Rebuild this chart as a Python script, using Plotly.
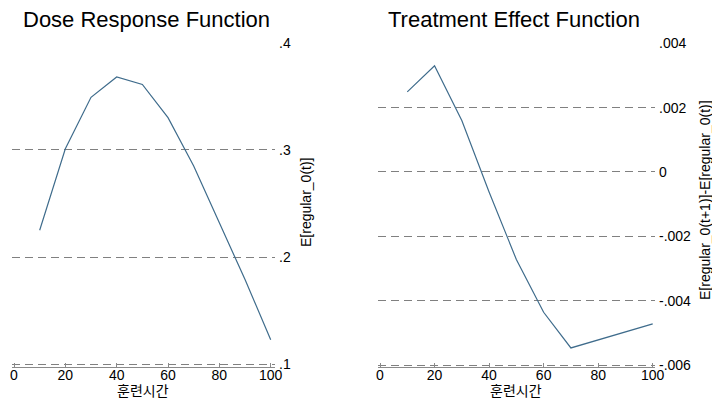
import plotly.graph_objects as go

# ---- data ----
dose = [10, 20, 30, 40, 50, 60, 70, 80, 90, 100]
dose_response = [0.225, 0.301, 0.349, 0.368, 0.361, 0.330, 0.285, 0.232, 0.179, 0.123]
treatment_effect = [0.00249, 0.00330, 0.00160, -0.00062, -0.00272, -0.00436,
                    -0.00547, -0.00522, -0.00497, -0.00472]

x_ticks = [0, 20, 40, 60, 80, 100]
x_tick_text = ["0", "20", "40", "60", "80", "100"]
dr_ticks = [0.1, 0.2, 0.3, 0.4]
dr_tick_text = [".1", ".2", ".3", ".4"]
te_ticks = [-0.006, -0.004, -0.002, 0, 0.002, 0.004]
te_tick_text = ["-.006", "-.004", "-.002", "0", ".002", ".004"]

titles = ["Dose Response Function", "Treatment Effect Function"]
y_titles = ["E[regular_0(t)]", "E[regular_0(t+1)]-E[regular_0(t)]"]
x_title = "훈련시간"

# page body has an 8px margin -> figure is drawn offset by 8px
OFF = 8
W, H = 720 - OFF, 403 - OFF
LINE = "#3f6c8c"
GRID = "#808080"
AX = "#8a8a8a"
FONT = "Liberation Sans, Arial, sans-serif"
KFONT = "Noto Sans CJK KR, sans-serif"


def px(x):
    return (x - OFF) / W


def py(y):
    return 1 - (y - OFF) / H


fig = go.Figure()
fig.add_trace(go.Scatter(x=dose, y=dose_response, mode="lines",
                         line=dict(color=LINE, width=1.2), xaxis="x", yaxis="y",
                         showlegend=False))
fig.add_trace(go.Scatter(x=dose, y=treatment_effect, mode="lines",
                         line=dict(color=LINE, width=1.2), xaxis="x2", yaxis="y2",
                         showlegend=False))

ydom = [py(367), py(42.3)]


def xaxis_cfg(dom, rng, anchor):
    return dict(domain=dom, range=rng, anchor=anchor, tickvals=x_ticks,
                ticktext=x_tick_text, showgrid=False, zeroline=False,
                showline=True, linecolor=AX, linewidth=1, ticks="inside",
                ticklen=4, tickcolor=AX, tickwidth=1, automargin=False,
                ticklabelstandoff=-5,
                tickfont=dict(family=FONT, size=14, color="#000"))


def yaxis_cfg(rng, tv, tt, anchor):
    return dict(domain=ydom, range=rng, anchor=anchor, side="right",
                tickvals=tv, ticktext=tt, showgrid=True, gridcolor=GRID,
                gridwidth=1, griddash="8px,5px", zeroline=False,
                showline=False, ticks="", ticklabelstandoff=3, automargin=False,
                tickfont=dict(family=FONT, size=14, color="#000"))


fig.update_layout(
    width=W, height=H,
    margin=dict(l=0, r=0, t=0, b=0, autoexpand=False),
    paper_bgcolor="white", plot_bgcolor="white",
    font=dict(family=FONT, color="#000"),
    xaxis=xaxis_cfg([px(12), px(275)], [-0.779, 101.675], "y"),
    yaxis=yaxis_cfg([0.09748, 0.4003], dr_ticks, dr_tick_text, "x"),
    xaxis2=xaxis_cfg([px(377.7), px(655)], [-0.843, 100.84], "y2"),
    yaxis2=yaxis_cfg([-0.006062, 0.004031], te_ticks, te_tick_text, "x2"),
)

ann = []
# panel titles
ann.append(dict(text=titles[0], x=px(21), y=py(19), xref="paper", yref="paper",
                xanchor="left", yanchor="middle", showarrow=False,
                font=dict(family=FONT, size=22, color="#000")))
ann.append(dict(text=titles[1], x=px(386), y=py(19), xref="paper", yref="paper",
                xanchor="left", yanchor="middle", showarrow=False,
                font=dict(family=FONT, size=22, color="#000")))
# y titles
ann.append(dict(text=y_titles[0], x=px(306), y=py(203), xref="paper", yref="paper",
                xanchor="center", yanchor="middle", textangle=-90, showarrow=False,
                font=dict(family=FONT, size=14, color="#000")))
ann.append(dict(text=y_titles[1], x=px(705), y=py(200), xref="paper", yref="paper",
                xanchor="center", yanchor="middle", textangle=-90, showarrow=False,
                font=dict(family=FONT, size=14, color="#000")))
# x titles
ann.append(dict(text=x_title, x=px(142.5), y=py(390), xref="paper", yref="paper",
                xanchor="center", yanchor="middle", showarrow=False,
                font=dict(family=KFONT, size=14, color="#000")))
ann.append(dict(text=x_title, x=px(516), y=py(390), xref="paper", yref="paper",
                xanchor="center", yanchor="middle", showarrow=False,
                font=dict(family=KFONT, size=14, color="#000")))
fig.update_layout(annotations=ann)

fig.write_html("out.html")
